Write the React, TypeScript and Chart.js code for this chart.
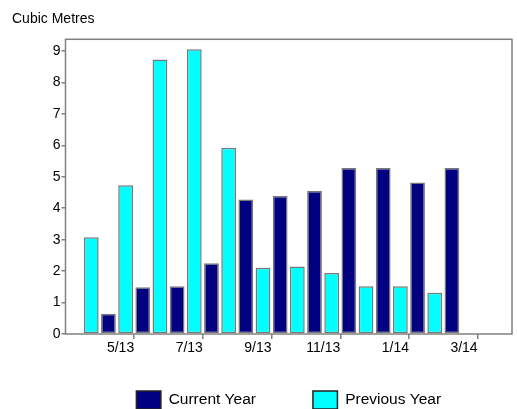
import React, { useEffect, useRef } from "react";
import { Chart, registerables } from "chart.js";

Chart.register(...registerables);

const months = ["3/13", "4/13", "5/13", "6/13", "7/13", "8/13", "9/13", "10/13", "11/13", "12/13", "1/14", "2/14", "3/14", "4/14"];
const shownTickLabels = ["5/13", "7/13", "9/13", "11/13", "1/14", "3/14"];
const previousYear = [null, 3.08, 4.73, 8.73, 9.05, 5.92, 2.11, 2.15, 1.94, 1.52, 1.52, 1.31, null, null];
const currentYear = [null, 0.64, 1.49, 1.52, 2.25, 4.28, 4.39, 4.55, 5.28, 5.28, 4.82, 5.28, null, null];
const yTitle = "Cubic Metres";

const FONT = "'Liberation Sans', Arial, sans-serif";
const GREY = "#808080";

const framePlugin = {
  id: "frame",
  afterDatasetsDraw(chart: any) {
    const { ctx, chartArea } = chart;
    ctx.save();
    ctx.strokeStyle = GREY;
    ctx.lineWidth = 1.5;
    ctx.strokeRect(chartArea.left, chartArea.top, chartArea.right - chartArea.left, chartArea.bottom - chartArea.top);
    ctx.restore();
  },
};

export default function App() {
  const ref = useRef<HTMLCanvasElement | null>(null);

  useEffect(() => {
    document.body.style.margin = "0";
    const canvas = ref.current;
    if (!canvas) return;
    const chart = new Chart(canvas, {
      type: "bar",
      data: {
        labels: months,
        datasets: [
          {
            label: "Previous Year",
            data: previousYear,
            backgroundColor: "#00FFFF",
            borderColor: "#777777",
            borderWidth: 1.5,
            borderSkipped: false,
          },
          {
            label: "Current Year",
            data: currentYear,
            backgroundColor: "#000080",
            borderColor: "#777777",
            borderWidth: 1.5,
            borderSkipped: false,
          },
        ],
      },
      options: {
        animation: false,
        responsive: false,
        maintainAspectRatio: false,
        datasets: { bar: { categoryPercentage: 1, barPercentage: 0.86 } },
        layout: { padding: { left: 12, right: 5, top: 0, bottom: 0 } },
        plugins: {
          tooltip: { enabled: false },
          title: {
            display: true,
            text: yTitle,
            align: "start",
            color: "#000",
            font: { family: FONT, size: 14, weight: "normal" },
            padding: { top: 11, bottom: 11.5 },
          },
          legend: {
            position: "bottom",
            reverse: true,
            fullSize: false,
            labels: {
              boxWidth: 24.5,
              boxHeight: 18,
              padding: 57,
              color: "#000",
              font: { family: FONT, size: 15.5 },
              generateLabels: (c: any) =>
                Chart.defaults.plugins.legend.labels
                  .generateLabels(c)
                  .map((l: any) => ({ ...l, strokeStyle: "#222222", lineWidth: 1.5 })),
            },
          },
        },
        scales: {
          x: {
            offset: false,
            afterFit: (scale: any) => {
              scale.height = 0;
            },
            grid: {
              offset: false,
              drawOnChartArea: false,
              drawTicks: true,
              tickLength: 5,
              lineWidth: 1.5,
              color: (c: any) => (shownTickLabels.includes(months[c.index]) ? GREY : "rgba(0,0,0,0)"),
            },
            border: { display: false },
            ticks: {
              autoSkip: false,
              maxRotation: 0,
              mirror: true,
              align: "end",
              padding: -22.8,
              color: "#000",
              font: { family: FONT, size: 14 },
              callback: (_v: any, i: number) => (shownTickLabels.includes(months[i]) ? months[i] : ""),
            },
          },
          y: {
            min: 0,
            max: 9.37,
            afterFit: (scale: any) => {
              scale.width = 53.5;
            },
            grid: {
              drawOnChartArea: false,
              drawTicks: true,
              tickLength: 4,
              lineWidth: 1.5,
              color: GREY,
            },
            border: { display: false },
            ticks: {
              stepSize: 1,
              includeBounds: false,
              padding: 1,
              color: "#000",
              font: { family: FONT, size: 14 },
            },
          },
        },
      },
      plugins: [framePlugin],
    } as any);
    return () => chart.destroy();
  }, []);

  return (
    <div style={{ width: 517, height: 409, overflow: "hidden", background: "#fff" }}>
      <canvas ref={ref} width={517} height={419} style={{ display: "block", width: 517, height: 419 }} />
    </div>
  );
}
